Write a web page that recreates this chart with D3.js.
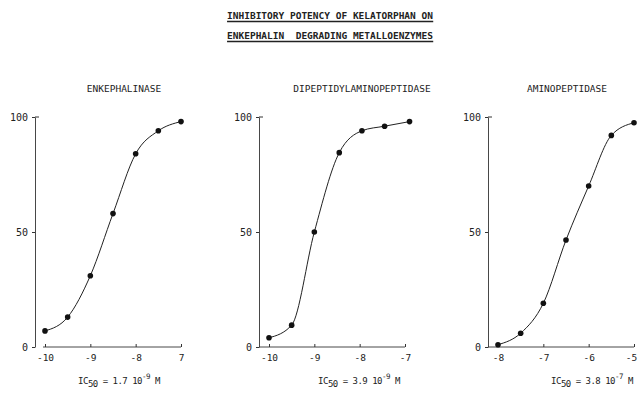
<!DOCTYPE html>
<html>
<head>
<meta charset="utf-8">
<script src="https://cdn.jsdelivr.net/npm/d3@7"></script>
<style>
  body { margin: 0; background: #fff; }
  text { font-family: "DejaVu Sans Mono", monospace; fill: #222; }
</style>
</head>
<body>
<svg width="638" height="400"></svg>
<script>
let svg = d3.select("svg");

// data (log molar concentration vs % inhibition)
let titres = ["ENKEPHALINASE", "DIPEPTIDYLAMINOPEPTIDASE", "AMINOPEPTIDASE"];
let logConc1 = [-10, -9.5, -9, -8.5, -8, -7.5, -7];
let inhib1 = [7, 13, 31, 58, 84, 94, 98];
let logConc2 = [-10, -9.5, -9, -8.45, -7.95, -7.45, -6.9];
let inhib2 = [4, 9.5, 50, 84.5, 94, 96, 98];
let logConc3 = [-8, -7.5, -7, -6.5, -6, -5.5, -5];
let inhib3 = [1, 6, 19, 46.5, 70, 92, 97.5];
let xTicks1 = [-10, -9, -8, -7];
let xLabels1 = ["-10", "-9", "-8", "7"];
let xTicks2 = [-10, -9, -8, -7];
let xLabels2 = ["-10", "-9", "-8", "-7"];
let xTicks3 = [-8, -7, -6, -5];
let xLabels3 = ["-8", "-7", "-6", "-5"];
let yTicks = [0, 50, 100];
let ic50 = [["1.7", "-9"], ["3.9", "-9"], ["3.8", "-7"]];

let panneaux = [
  {x: logConc1, y: inhib1, ticks: xTicks1, labels: xLabels1, dom: [-10, -7], left: 35, tx: 89, ix: 84},
  {x: logConc2, y: inhib2, ticks: xTicks2, labels: xLabels2, dom: [-10, -7], left: 259, tx: 103, ix: 100},
  {x: logConc3, y: inhib3, ticks: xTicks3, labels: xLabels3, dom: [-8, -5], left: 488, tx: 79, ix: 104}
];

// titre general, souligne
let titre = ["INHIBITORY POTENCY OF KELATORPHAN ON", "ENKEPHALIN  DEGRADING METALLOENZYMES"];
titre.forEach((t, i) => {
  let txt = svg.append("text")
    .attr("x", 330).attr("y", 19 + i * 20)
    .attr("text-anchor", "middle")
    .style("font-size", "9.5px")
    .style("font-weight", "bold")
    .style("white-space", "pre")
    .attr("xml:space", "preserve")
    .text(t);
  let b = txt.node().getBBox();
  svg.append("line")
    .attr("x1", b.x).attr("x2", b.x + b.width)
    .attr("y1", 21.5 + i * 20).attr("y2", 21.5 + i * 20)
    .attr("stroke", "#222").attr("stroke-width", 1.3);
});

let y = d3.scaleLinear().domain([0, 100]).range([347, 117]);

panneaux.forEach((p, i) => {
  let x = d3.scaleLinear().domain(p.dom).range([p.left + 10, p.left + 146]);
  let g = svg.append("g");

  g.append("text")
    .attr("x", p.left + p.tx).attr("y", 92)
    .attr("text-anchor", "middle")
    .style("font-size", "9.5px")
    .text(titres[i]);

  // axe y
  let ay = g.append("g")
    .attr("transform", `translate(${p.left},0)`)
    .call(d3.axisLeft(y).tickValues(yTicks).tickSize(3).tickSizeOuter(0).tickFormat(d3.format("d")));
  ay.select(".domain").attr("stroke", "#333").attr("stroke-width", 0.9);
  ay.selectAll(".tick line").attr("stroke", "#333");
  ay.selectAll(".tick text").attr("x", -7)
    .style("font-family", "DejaVu Sans Mono, monospace")
    .style("font-size", "10px").attr("fill", "#222");
  // petit crochet en haut
  g.append("line")
    .attr("x1", p.left).attr("x2", p.left + 4)
    .attr("y1", y(100)).attr("y2", y(100))
    .attr("stroke", "#333");

  // axe x
  let ax = g.append("g")
    .attr("transform", `translate(0,${y(0)})`)
    .call(d3.axisBottom(x).tickValues(p.ticks).tickSize(-3).tickSizeOuter(0)
      .tickFormat((d, j) => p.labels[j]));
  ax.select(".domain").attr("d", `M${p.left + (i == 0 ? 8 : 0)},0H${p.left + 146}`)
    .attr("stroke", "#333").attr("stroke-width", 0.9);
  ax.selectAll(".tick line").attr("stroke", "#333");
  ax.selectAll(".tick text").attr("y", 7)
    .style("font-family", "DejaVu Sans Mono, monospace")
    .style("font-size", "9.5px").attr("fill", "#222");
  if (i == 2) {
    ax.selectAll(".tick text").filter((d, j) => j == 3).attr("x", -3);
  }

  // courbe
  let pts = p.x.map((v, j) => [v, p.y[j]]);
  g.append("path")
    .datum(pts)
    .attr("fill", "none")
    .attr("stroke", "#222")
    .attr("stroke-width", 1)
    .attr("d", d3.line().x(d => x(d[0])).y(d => y(d[1])).curve(d3.curveMonotoneX));

  g.selectAll("circle")
    .data(pts)
    .enter()
    .append("circle")
    .attr("cx", d => x(d[0]))
    .attr("cy", d => y(d[1]))
    .attr("r", 2.8)
    .attr("fill", "#111");

  // IC50
  let t = g.append("text")
    .attr("x", p.left + p.ix).attr("y", 384)
    .attr("text-anchor", "middle")
    .style("font-size", "9px")
    .style("letter-spacing", "-0.5px")
    .attr("fill", "#333");
  t.append("tspan").text("IC");
  t.append("tspan").attr("dy", 3).style("font-size", "9px").text("50");
  t.append("tspan").attr("dy", -3).text(` = ${ic50[i][0]} 10`);
  t.append("tspan").attr("dy", -5).style("font-size", "7.5px").text(ic50[i][1]);
  t.append("tspan").attr("dy", 5).text(" M");
});
</script>
</body>
</html>
